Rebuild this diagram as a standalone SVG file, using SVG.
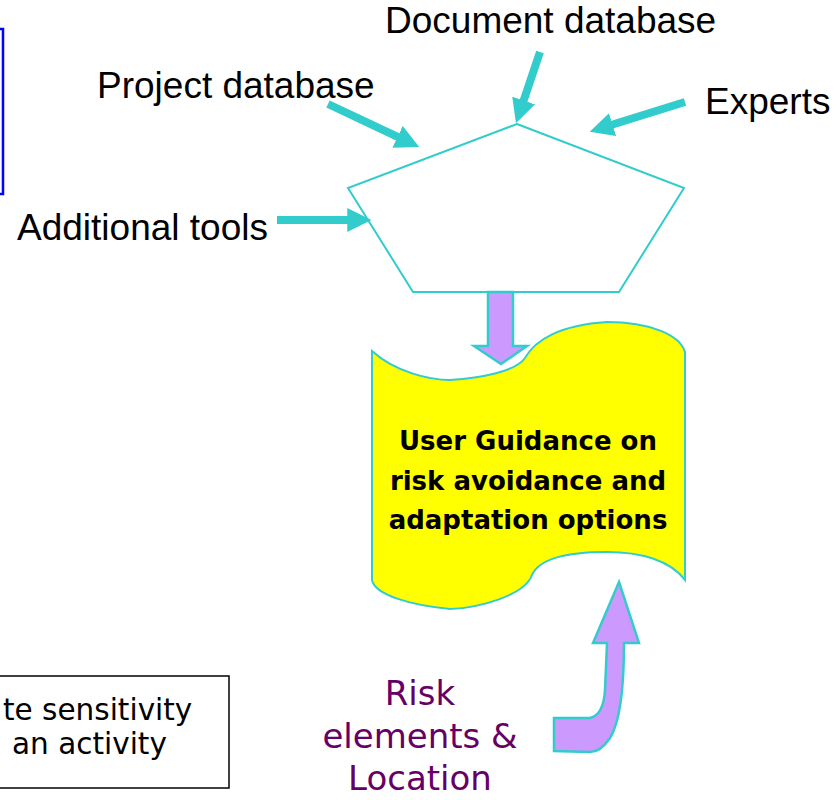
<svg xmlns="http://www.w3.org/2000/svg" width="837" height="800" viewBox="0 0 837 800">
  <style>
    .lbl { font-family: "Liberation Sans", Arial, sans-serif; font-size: 37px; fill: #000; }
    .body { font-family: "DejaVu Sans", Verdana, sans-serif; font-size: 26px; font-weight: bold; fill: #000; text-anchor: middle; }
    .risk { font-family: "DejaVu Sans", Verdana, sans-serif; font-size: 34px; fill: #660066; text-anchor: middle; }
    .note { font-family: "DejaVu Sans", Verdana, sans-serif; font-size: 29.5px; fill: #000; }
    .feed { stroke: #33CCCC; stroke-width: 8; fill: none; marker-end: url(#head); }
    .block { fill: #CC99FF; stroke: #33CCCC; stroke-width: 2.5; stroke-linejoin: miter; }
  </style>
  <defs>
    <marker id="head" viewBox="0 0 10 10" refX="0.3" refY="5" markerUnits="strokeWidth" markerWidth="3" markerHeight="3" orient="auto">
      <path d="M0,0 L10,5 L0,10 Z" fill="#33CCCC"/>
    </marker>
  </defs>
  <rect width="837" height="800" fill="#FFFFFF"/>

  <g id="blue-frame">
    <rect x="-10" y="29" width="13" height="165" fill="none" stroke="#0000FF" stroke-width="2.5"/>
  </g>

  <g id="pentagon">
    <polygon points="517,124 684,188 619,292 413,292 348,188" fill="#FFFFFF" stroke="#33CCCC" stroke-width="2"/>
  </g>

  <g id="label-document">
    <text class="lbl" x="385" y="33">Document database</text>
  </g>
  <g id="label-project">
    <text class="lbl" x="97" y="98">Project database</text>
  </g>
  <g id="label-experts">
    <text class="lbl" x="705" y="114">Experts</text>
  </g>
  <g id="label-tools">
    <text class="lbl" x="17" y="240">Additional tools</text>
  </g>

  <g id="guidance">
    <path d="M372,351 C395,372 430,380 450,380 C480,378 515,372 525,358 C535,340 560,325 607,322 C650,322 680,335 685,352 L685,580 C670,560 640,552 607,552 C570,552 540,557 532,575 C525,595 480,608 450,609 C410,605 375,595 372,580 Z" fill="#FFFF00" stroke="#33CCCC" stroke-width="2"/>
    <text class="body" x="528" y="450">User Guidance on</text>
    <text class="body" x="528" y="490">risk avoidance and</text>
    <text class="body" x="528" y="529">adaptation options</text>
  </g>

  <g id="risk-label">
    <text class="risk" x="420" y="705">Risk</text>
    <text class="risk" x="420" y="748">elements &amp;</text>
    <text class="risk" x="420" y="790">Location</text>
  </g>

  <g id="sensitivity-box">
    <rect x="-10" y="676" width="239" height="112" fill="#FFFFFF" stroke="#000000" stroke-width="1.5"/>
    <text class="note" x="3" y="720">te sensitivity</text>
    <text class="note" x="12" y="754">an activity</text>
  </g>

  <g id="connectors">
    <line class="feed" x1="328" y1="104" x2="398.2" y2="137.1"/>
    <line class="feed" x1="540" y1="52" x2="523.4" y2="101.2"/>
    <line class="feed" x1="685" y1="102" x2="611.9" y2="124.8"/>
    <line class="feed" x1="277" y1="220" x2="348" y2="220"/>
    <path class="block" d="M488,292 L513,292 L513,346 L527,346 L501,364 L474,346 L488,346 Z"/>
    <path class="block" d="M619,582 L639,643 L624,643 C624,690 620,722 610,738 C604,747 598,752 590,752 L554,751 L554,718 L590,718 C599,716 604,706 605,690 L607,643 L593,643 Z"/>
  </g>
</svg>
